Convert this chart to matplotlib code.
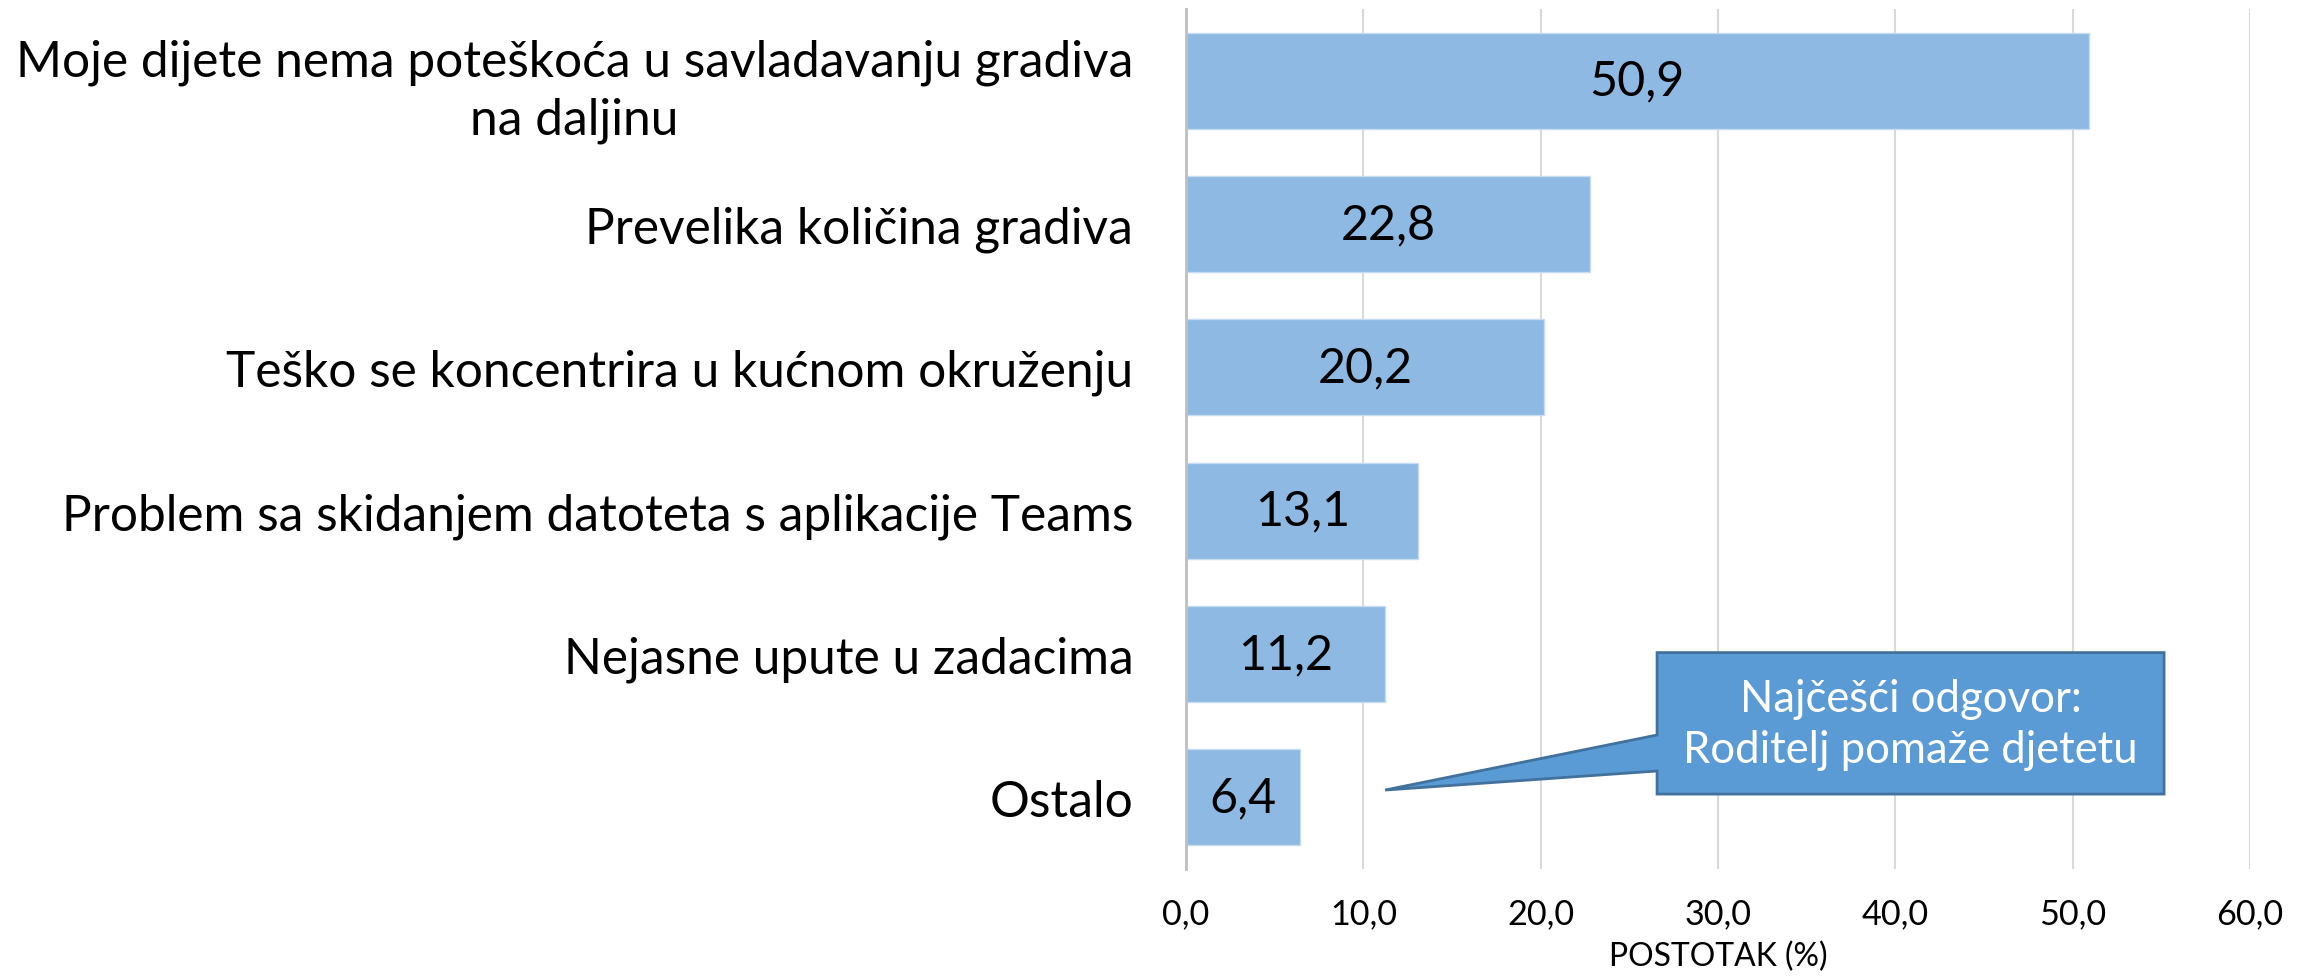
import matplotlib
matplotlib.use("Agg")
import matplotlib.pyplot as plt
from matplotlib import font_manager
from matplotlib.patches import Polygon

categories = [
    "Moje dijete nema poteškoća u savladavanju gradiva\nna daljinu",
    "Prevelika količina gradiva",
    "Teško se koncentrira u kućnom okruženju",
    "Problem sa skidanjem datoteta s aplikacije Teams",
    "Nejasne upute u zadacima",
    "Ostalo",
]
values = [50.9, 22.8, 20.2, 13.1, 11.2, 6.4]
xticks = [0, 10, 20, 30, 40, 50, 60]
callout_text = "Najčešći odgovor:\nRoditelj pomaže djetetu"

names = {f.name for f in font_manager.fontManager.ttflist}
if "Liberation Sans Narrow" in names:
    font = "Liberation Sans Narrow"
    scale = 1.0
else:
    font = "Lato"
    scale = 0.85
plt.rcParams["font.family"] = [font, "DejaVu Sans"]

def fmt(v):
    return f"{v:.1f}".replace(".", ",")

fig = plt.figure(figsize=(23.08, 9.79), dpi=100)
ax = fig.add_axes([0.5139, 0.1113, 0.4610, 0.8785])

pos = list(range(len(categories)))
ax.barh(pos, values, height=0.67, color="#8db9e2", edgecolor="#c5dcf1", linewidth=1, zorder=2)
for p, v in zip(pos, values):
    ax.text(v / 2, p, fmt(v), ha="center", va="center", fontsize=41 * scale, color="black", zorder=3)

ax.set_xlim(0, 60)
ax.set_ylim(len(categories) - 0.5, -0.5)
ax.set_xticks(xticks)
ax.set_xticklabels([fmt(t) for t in xticks], fontsize=29 * scale)
ax.set_yticks(pos)
ax.set_yticklabels(categories, fontsize=42 * scale, multialignment="center", linespacing=1.3)
ax.tick_params(axis="x", length=0, pad=20)
ax.tick_params(axis="y", length=0, pad=38)

ax.grid(axis="x", color="#d9d9d9", linewidth=1.5, zorder=0)
ax.set_axisbelow(True)
for s in ["top", "right", "bottom"]:
    ax.spines[s].set_visible(False)
ax.spines["left"].set_color("#bfbfbf")
ax.spines["left"].set_linewidth(2)
ax.spines["left"].set_zorder(4)

fig.text(0.5139 + 0.4610 / 2, 1 - 957 / 979, "POSTOTAK (%)", ha="center", va="center", fontsize=27 * scale)

# callout box with pointer
shape = [(26.56, 3.99), (55.15, 3.99), (55.15, 4.977), (26.56, 4.977),
         (26.56, 4.816), (11.22, 4.949), (26.56, 4.565)]
ax.add_patch(Polygon(shape, closed=True, facecolor="#5b9bd5", edgecolor="#41719c",
                     linewidth=2, zorder=5, clip_on=False))
ax.text((26.56 + 55.15) / 2, 4.49, callout_text, ha="center", va="center",
        fontsize=37 * scale, color="white", linespacing=1.3, zorder=6)

fig.savefig("out.png", dpi=100)
